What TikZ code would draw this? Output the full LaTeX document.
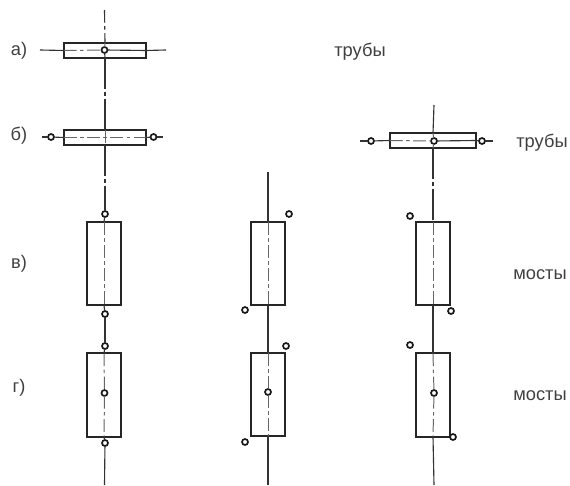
\documentclass[tikz,border=0pt]{standalone}
\usepackage{fontspec}
\setmainfont{Liberation Sans}
\tikzset{
  wide/.style={draw=black!85, line width=1.3pt, minimum width=2.05cm, minimum height=0.375cm, inner sep=0pt, outer sep=0pt},
  tall/.style={draw=black!85, line width=1.3pt, minimum width=0.85cm, minimum height=2.08cm, inner sep=0pt, outer sep=0pt},
  hole/.style={circle, draw=black!90, line width=1.2pt, minimum size=0.15cm, inner sep=0pt, outer sep=0pt},
  axis/.style={black!80, line width=0.8pt},
  axislong/.style={axis, dash pattern=on 22pt off 2pt on 3pt off 2pt},
  axisdot/.style={black!60, line width=0.7pt, dash pattern=on 9pt off 2.5pt on 2.5pt off 2.5pt},
  label/.style={text=black!75, font=\fontsize{13}{15}\selectfont, inner sep=0pt}
}
\begin{document}
\begin{tikzpicture}[x=0.025cm,y=-0.025cm]
\useasboundingbox (0,0) rectangle (570,485);

\node[label] (la) at (19,51) {а)};
\node[label] (lb) at (19,136) {б)};
\node[label] (lc) at (19,264) {в)};
\node[label] (ld) at (19,388) {г)};
\node[label] (pipe1) at (360,52) {трубы};
\node[label] (pipe2) at (542,143) {трубы};
\node[label] (bridge1) at (540,275) {мосты};
\node[label] (bridge2) at (540,396) {мосты};

% first column
\coordinate (top1) at (104.5,10);
\coordinate (bot1) at (104.5,485);
\node[wide] (a1) at (105,50.5) {};
\node[hole] (a1c) at (104.5,50) {};
\coordinate (aleft) at (40,50);
\coordinate (aright) at (166,50);
\node[wide] (b1) at (105,137.5) {};
\node[hole] (b1l) at (51,137) {};
\node[hole] (b1r) at (153.5,137) {};
\coordinate (bleft) at (42,137);
\coordinate (bright) at (163,137);
\node[hole] (c1t) at (105,214) {};
\node[tall] (c1) at (104,263.5) {};
\node[hole] (c1b) at (105,314) {};
\node[hole] (d1t) at (105,346) {};
\node[tall] (d1) at (104,395) {};
\node[hole] (d1c) at (104.5,393) {};
\node[hole] (d1b) at (105,443) {};

\draw[axis, dash pattern=on 9pt off 2.5pt on 2.5pt off 2.5pt] (top1) -- (a1.north);
\draw[axisdot] (a1.north) -- (a1c);
\draw[axis] (a1c) -- (a1.south);
\draw[axislong] (a1.south) -- (b1.north);
\draw[axisdot] (b1.north) -- (b1.south);
\draw[axislong] (b1.south) -- (c1t);
\draw[axis] (c1t) -- (c1.north);
\draw[axisdot] (c1.north) -- (c1.south);
\draw[axis] (c1.south) -- (c1b);
\draw[axislong] (c1b) -- (d1t);
\draw[axis] (d1t) -- (d1.north);
\draw[axisdot] (d1.north) -- (d1c);
\draw[axisdot] (d1c) -- (d1.south);
\draw[axis] (d1.south) -- (d1b);
\draw[axis] (d1b) -- (bot1);
\draw[axis] (aleft) -- (a1.west);
\draw[axisdot] (a1.west) -- (a1c);
\draw[axis] (a1c) -- (a1.east);
\draw[axis] (a1.east) -- (aright);
\draw[axis] (bleft) -- (b1l);
\draw[axis] (b1l) -- (b1.west);
\draw[axisdot] (b1.west) -- (b1.east);
\draw[axis] (b1.east) -- (b1r);
\draw[axis] (b1r) -- (bright);

% second column
\coordinate (top2) at (268,172);
\coordinate (bot2) at (268,485);
\node[tall] (c2) at (268,263.5) {};
\node[hole] (c2t) at (289,214) {};
\node[hole] (c2b) at (245,310) {};
\node[tall] (d2) at (268,394.5) {};
\node[hole] (d2t) at (286,346) {};
\node[hole] (d2c) at (268,392) {};
\node[hole] (d2b) at (245,442) {};

\draw[axis] (top2) -- (c2.north);
\draw[axisdot] (c2.north) -- (c2.south);
\draw[axis] (c2.south) -- (d2.north);
\draw[axisdot] (d2.north) -- (d2c);
\draw[axisdot] (d2c) -- (d2.south);
\draw[axis] (d2.south) -- (bot2);

% third column
\coordinate (top3) at (434,105);
\coordinate (bot3) at (434,485);
\node[wide, minimum width=2.15cm] (b3) at (433,140.5) {};
\node[hole] (b3c) at (434,141) {};
\node[hole] (b3l) at (371,141) {};
\node[hole] (b3r) at (482,141) {};
\coordinate (cleft) at (360,141);
\coordinate (cright) at (493,141);
\node[tall] (c3) at (433,263.5) {};
\node[hole] (c3t) at (410,216) {};
\node[hole] (c3b) at (451,311) {};
\node[tall] (d3) at (433,395) {};
\node[hole] (d3t) at (410,345) {};
\node[hole] (d3c) at (434,393) {};
\node[hole] (d3b) at (453,437) {};

\draw[axis] (top3) -- (b3.north);
\draw[axisdot] (b3.north) -- (b3c);
\draw[axisdot] (b3c) -- (b3.south);
\draw[axislong] (b3.south) -- (c3.north);
\draw[axisdot] (c3.north) -- (c3.south);
\draw[axis] (c3.south) -- (d3.north);
\draw[axisdot] (d3.north) -- (d3c);
\draw[axisdot] (d3c) -- (d3.south);
\draw[axis] (d3.south) -- (bot3);
\draw[axis] (cleft) -- (b3l);
\draw[axis] (b3l) -- (b3.west);
\draw[axisdot] (b3.west) -- (b3c);
\draw[axis] (b3c) -- (b3.east);
\draw[axis] (b3.east) -- (b3r);
\draw[axis] (b3r) -- (cright);
\end{tikzpicture}
\end{document}
